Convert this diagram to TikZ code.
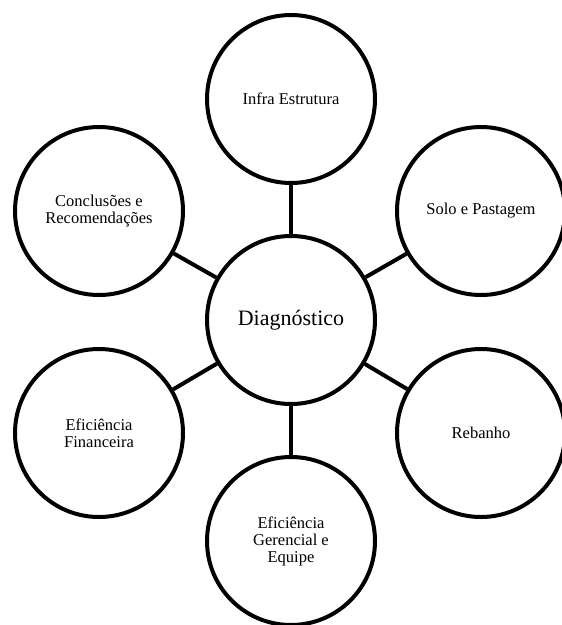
\documentclass[tikz,border=0pt]{standalone}
\usepackage{fontspec}
\setmainfont{Liberation Serif}
\begin{document}
\begin{tikzpicture}[x=1pt,y=-1pt,
  bubble/.style={circle,draw=black,line width=4pt,minimum size=168pt,inner sep=0pt,align=center,font=\fontsize{16.5}{17}\selectfont},
  link/.style={line width=4pt}]
\useasboundingbox (0,0) rectangle (562,625);
\clip (0,0) rectangle (562,625);
\node[bubble,font=\fontsize{22}{24}\selectfont] (diag) at (291,320) {Diagnóstico};
\node[bubble] (infra) at (291,99) {Infra Estrutura};
\node[bubble] (solo) at (481,211) {Solo e Pastagem};
\node[bubble] (reb) at (481,433) {Rebanho};
\node[bubble] (ger) at (291,541) {Eficiência\\Gerencial e\\Equipe};
\node[bubble] (fin) at (99,433) {Eficiência\\Financeira};
\node[bubble] (conc) at (99,211) {Conclusões e\\Recomendações};
\foreach \n in {infra,solo,reb,ger,fin,conc} \draw[link] (diag) -- (\n);
\end{tikzpicture}
\end{document}
